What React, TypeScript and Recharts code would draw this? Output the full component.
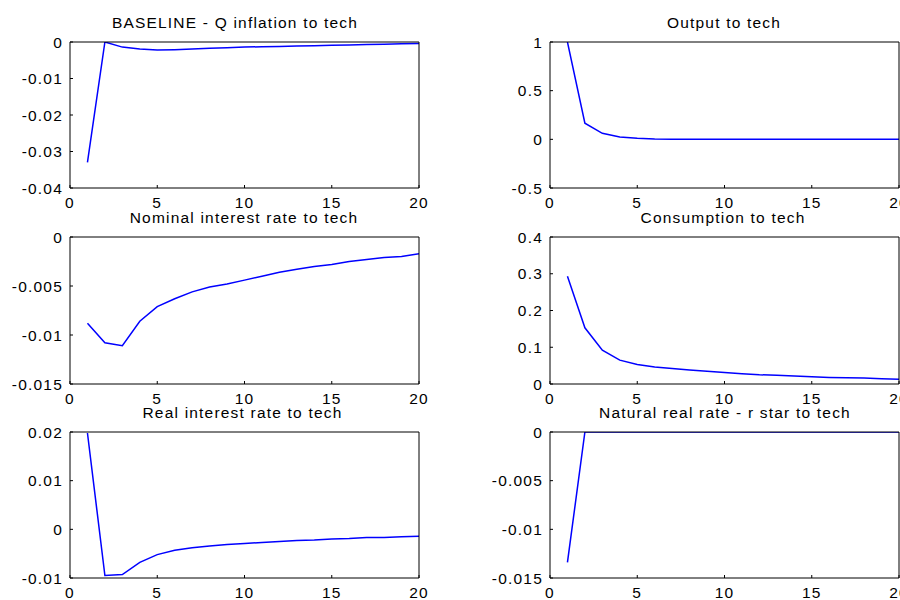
import React from 'react';
import { LineChart, Line, XAxis, YAxis } from 'recharts';

const periods = [1, 2, 3, 4, 5, 6, 7, 8, 9, 10, 11, 12, 13, 14, 15, 16, 17, 18, 19, 20];

const qInflation = [-0.033, 0, -0.0014, -0.0019, -0.0022, -0.0021, -0.0019, -0.0017, -0.0016, -0.0014, -0.0013, -0.0012, -0.0011, -0.001, -0.0009, -0.0008, -0.0007, -0.0006, -0.0005, -0.0004];
const output = [1.0, 0.165, 0.062, 0.025, 0.01, 0.004, 0.002, 0.001, 0.0005, 0.0003, 0.0002, 0.0001, 0.0001, 0, 0, 0, 0, 0, 0, 0];
const nominalRate = [-0.0088, -0.0108, -0.0111, -0.0086, -0.0071, -0.0063, -0.0056, -0.0051, -0.0048, -0.0044, -0.004, -0.0036, -0.0033, -0.003, -0.0028, -0.0025, -0.0023, -0.0021, -0.002, -0.0017];
const consumption = [0.293, 0.153, 0.092, 0.065, 0.053, 0.046, 0.042, 0.038, 0.035, 0.031, 0.028, 0.025, 0.024, 0.022, 0.02, 0.018, 0.017, 0.016, 0.014, 0.013];
const realRate = [0.0198, -0.0095, -0.0093, -0.0068, -0.0052, -0.0043, -0.0038, -0.0034, -0.0031, -0.0029, -0.0027, -0.0025, -0.0023, -0.0022, -0.002, -0.0019, -0.0017, -0.0017, -0.0015, -0.0014];
const naturalRate = [-0.0134, 0, 0, 0, 0, 0, 0, 0, 0, 0, 0, 0, 0, 0, 0, 0, 0, 0, 0, 0];

const xTicks = [0, 5, 10, 15, 20];
const qInflationTicks = [-0.04, -0.03, -0.02, -0.01, 0];
const outputTicks = [-0.5, 0, 0.5, 1];
const nominalTicks = [-0.015, -0.01, -0.005, 0];
const consumptionTicks = [0, 0.1, 0.2, 0.3, 0.4];
const realTicks = [-0.01, 0, 0.01, 0.02];
const naturalTicks = [-0.015, -0.01, -0.005, 0];

const titles = [
  'BASELINE - Q inflation to tech',
  'Output to tech',
  'Nominal interest rate to tech',
  'Consumption to tech',
  'Real interest rate to tech',
  'Natural real rate - r star to tech',
];

const FONT = 'Liberation Sans, Arial, Helvetica, sans-serif';
const FS = 15.5;
const LS = 1.2;

const rowsPlot = [
  { top: 42, bottom: 188, titleY: 27.5 },
  { top: 237, bottom: 384, titleY: 222.5 },
  { top: 432, bottom: 578, titleY: 418 },
];
const colsPlot = [
  { cell: 0, left: 70, right: 419 },
  { cell: 450, left: 550, right: 899 },
];
const titleCenters = [235, 724, 244, 723, 242.5, 725];

type PanelDef = { values: number[]; ticks: number[]; row: number; col: number };

const panels: PanelDef[] = [
  { values: qInflation, ticks: qInflationTicks, row: 0, col: 0 },
  { values: output, ticks: outputTicks, row: 0, col: 1 },
  { values: nominalRate, ticks: nominalTicks, row: 1, col: 0 },
  { values: consumption, ticks: consumptionTicks, row: 1, col: 1 },
  { values: realRate, ticks: realTicks, row: 2, col: 0 },
  { values: naturalRate, ticks: naturalTicks, row: 2, col: 1 },
];

const tickStyle = { fill: '#000', fontSize: FS, fontFamily: FONT, letterSpacing: LS };

function Panel({ p }: { p: PanelDef }) {
  const r = rowsPlot[p.row];
  const c = colsPlot[p.col];
  const padTop = 10;
  const xAxisH = 25;
  const height = r.bottom - r.top + padTop + xAxisH;
  const data = periods.map((t, i) => ({ t, v: p.values[i] }));
  const domain: [number, number] = [p.ticks[0], p.ticks[p.ticks.length - 1]];
  return (
    <div style={{ position: 'absolute', left: c.cell, top: r.top - padTop, width: 450, height }}>
      <LineChart
        width={450}
        height={height}
        data={data}
        margin={{ top: padTop - 1, right: c.cell + 450 - c.right - 1, bottom: 0, left: 0 }}
      >
        <XAxis
          xAxisId="bottom"
          dataKey="t"
          type="number"
          domain={[0, 20]}
          ticks={xTicks}
          height={xAxisH}
          stroke="#000"
          tickSize={-3}
          tickMargin={12}
          tick={tickStyle}
          interval={0}
          allowDataOverflow
        />
        <XAxis
          xAxisId="top"
          orientation="top"
          dataKey="t"
          type="number"
          domain={[0, 20]}
          ticks={xTicks}
          height={1}
          stroke="#000"
          tickSize={-3}
          tick={false}
          interval={0}
          allowDataOverflow
        />
        <YAxis
          yAxisId="left"
          type="number"
          domain={domain}
          ticks={p.ticks}
          width={c.left - c.cell}
          stroke="#000"
          tickSize={-3}
          tickMargin={10}
          tick={tickStyle}
          interval={0}
          allowDataOverflow
        />
        <YAxis
          yAxisId="right"
          orientation="right"
          type="number"
          domain={domain}
          ticks={p.ticks}
          width={1}
          stroke="#000"
          tickSize={-3}
          tick={false}
          interval={0}
          allowDataOverflow
        />
        <Line
          xAxisId="bottom"
          yAxisId="left"
          dataKey="v"
          stroke="#0000ff"
          strokeWidth={1.5}
          dot={false}
          activeDot={false}
          isAnimationActive={false}
          type="linear"
        />
      </LineChart>
    </div>
  );
}

export default function App() {
  return (
    <div style={{ position: 'absolute', left: 0, top: 0, width: 900, height: 600, background: '#fff', overflow: 'hidden' }}>
      {panels.map((p, i) => (
        <Panel key={i} p={p} />
      ))}
      <svg width={900} height={600} style={{ position: 'absolute', left: 0, top: 0, pointerEvents: 'none' }}>
        {panels.map((p, i) => (
          <text
            key={i}
            x={titleCenters[i]}
            y={rowsPlot[p.row].titleY}
            textAnchor="middle"
            fill="#000"
            fontSize={FS}
            fontFamily={FONT}
            letterSpacing={LS}
          >
            {titles[i]}
          </text>
        ))}
      </svg>
    </div>
  );
}
